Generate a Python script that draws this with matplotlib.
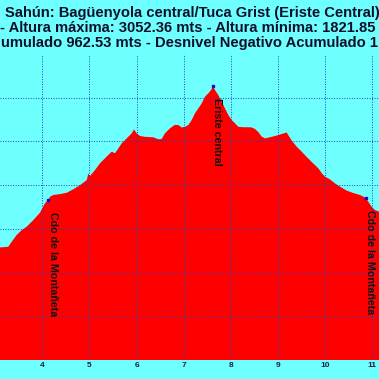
import matplotlib
matplotlib.use("Agg")
import matplotlib.pyplot as plt

# ---- data (distance in km, altitude in m) ----
km = [3.103, 3.279, 3.351, 3.457, 3.563, 3.669, 3.809, 3.951, 4.057, 4.127,
      4.163, 4.233, 4.375, 4.517, 4.657, 4.800, 4.942, 4.976, 5.012, 5.118,
      5.224, 5.330, 5.400, 5.472, 5.542, 5.612, 5.684, 5.790, 5.896, 5.945,
      6.002, 6.072, 6.178, 6.354, 6.460, 6.532, 6.602, 6.708, 6.814, 6.884,
      6.957, 7.026, 7.097, 7.169, 7.239, 7.309, 7.381, 7.451, 7.521, 7.578,
      7.620, 7.663, 7.733, 7.805, 7.875, 7.945, 8.017, 8.087, 8.157, 8.257,
      8.363, 8.441, 8.511, 8.581, 8.653, 8.723, 8.829, 8.971, 9.111, 9.183,
      9.217, 9.290, 9.396, 9.466, 9.608, 9.714, 9.854, 9.926, 9.996, 10.102,
      10.208, 10.314, 10.456, 10.596, 10.738, 10.859, 10.914, 10.986, 11.056, 11.141]
alt = [2315, 2318, 2341, 2372, 2394, 2410, 2440, 2474, 2517, 2532,
       2547, 2555, 2559, 2565, 2581, 2600, 2623, 2653, 2642, 2669,
       2700, 2723, 2738, 2753, 2746, 2768, 2791, 2814, 2837, 2855,
       2837, 2825, 2821, 2819, 2810, 2811, 2837, 2860, 2876, 2875,
       2864, 2867, 2875, 2898, 2929, 2951, 2974, 3005, 3020, 3035,
       3052, 3035, 3012, 2982, 2951, 2921, 2898, 2883, 2867, 2865,
       2865, 2864, 2857, 2843, 2822, 2814, 2819, 2827, 2836, 2841,
       2829, 2804, 2776, 2761, 2729, 2706, 2677, 2655, 2639, 2626,
       2608, 2593, 2575, 2564, 2555, 2542, 2524, 2501, 2486, 2479]

# waypoints
wp_names = ["Cdo de la Montañeta", "Eriste central", "Cdo de la Montañeta"]
wp_km = [4.127, 7.620, 10.859]
wp_alt = [2532, 3052, 2542]

x_ticks = [4, 5, 6, 7, 8, 9, 10, 11]
y_grid = [2000, 2200, 2400, 2600, 2800, 3000]

title_lines = [
    "Sahún: Bagüenyola central/Tuca Grist (Eriste Central)",
    "- Altura máxima: 3052.36 mts - Altura mínima: 1821.85",
    "umulado 962.53 mts - Desnivel Negativo Acumulado 1",
]

BG = "#6effff"
RED = "#ff0000"
TXT = "#10102a"

plt.rcParams['font.family'] = ['Liberation Sans', 'DejaVu Sans']

fig = plt.figure(figsize=(3.79, 3.79), dpi=100, facecolor=BG)
ax = fig.add_axes([0.0, 19 / 379, 1.0, (360 - 54) / 379])
ax.set_facecolor(BG)
ax.fill_between(km, alt, 1800, color=RED, lw=0, zorder=1)
ax.set_xlim(3.103, 11.141)
ax.set_ylim(1800, 3200)

for x in x_ticks:
    ax.axvline(x, color="#2040d0", ls=(0, (1, 1.6)), lw=0.7, zorder=2)
for y in y_grid:
    ax.axhline(y, color="#2040d0", ls=(0, (1, 1.6)), lw=0.7, zorder=2)

ax.set_xticks(x_ticks)
ax.set_xticklabels([str(t) for t in x_ticks], fontsize=6, fontweight='bold', color="#202040")
ax.tick_params(axis='x', length=0, pad=1.5)
ax.set_yticks([])
for s in ax.spines.values():
    s.set_visible(False)

for name, xk, ya in zip(wp_names, wp_km, wp_alt):
    ax.plot([xk], [ya], marker='s', ms=2.0, color="#1010c0", mec="#1010c0", zorder=4, clip_on=False)
    ax.annotate(name, (xk, ya), xytext=(-0.5, -8.5), textcoords='offset points',
                rotation=-90, ha='left', va='top', fontsize=7.7, fontweight='bold',
                color="#101010", zorder=5)

ys = [12.5, 27.5, 42.5]
xs = [5, 0, 1]
for line, yy, xx in zip(title_lines, ys, xs):
    fig.text(xx / 379, 1 - yy / 379, line, ha='left', va='center', fontsize=10.6,
             fontweight='bold', color=TXT)

fig.savefig("out.png", dpi=100, facecolor=BG)
